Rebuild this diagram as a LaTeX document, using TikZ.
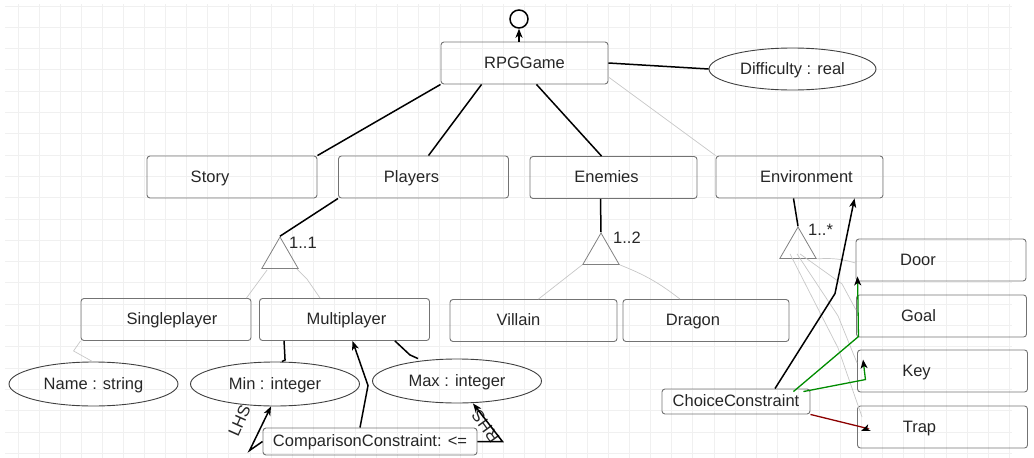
\documentclass[tikz,border=0pt]{standalone}
\usepackage{fontspec}
\setmainfont{Liberation Sans}
\usetikzlibrary{arrows.meta, shapes.geometric}

\newcommand{\cfont}{\fontsize{16.5}{19}\selectfont}

\tikzset{
  cls/.style={draw=black!55, line width=.9pt, rounded corners=3pt, minimum width=170pt, minimum height=42pt, inner sep=0pt},
  attr/.style={draw=black!75, line width=.9pt, ellipse, minimum width=169pt, minimum height=44pt, inner sep=0pt, font=\cfont, text=black!85},
  cons/.style={draw=black!55, line width=.9pt, rounded corners=3pt, inner sep=0pt, font=\cfont, text=black!85},
  lbl/.style={font=\cfont, text=black!85, text height=12pt, text depth=2pt, inner sep=0pt},
  grp/.style={draw=black!50, line width=.8pt, regular polygon, regular polygon sides=3, minimum size=42pt, inner sep=0pt},
  dark/.style={line width=1.5pt, black},
  lite/.style={line width=.7pt, black!22},
  gridln/.style={line width=.9pt, black!6},
  tip/.style={-{Stealth[length=9pt, width=7pt, inset=2.5pt, color=black]}},
}

\begin{document}
\begin{tikzpicture}[x=1pt,y=-1pt]
\useasboundingbox (0,0) rectangle (1034,458);
% grid
\foreach \i in {0,...,47} \draw[gridln] ({18+21.09*\i},4) -- ({18+21.09*\i},458);
\foreach \j in {0,...,21} \draw[gridln] (5,{6+21.3*\j}) -- (1012,{6+21.3*\j});

% features
\node[circle, draw, line width=1.5pt, minimum size=18pt, inner sep=0pt] (root) at (519,19) {};
\node[cls, minimum width=167pt, label={[lbl]center:RPGGame}] (rpg) at (524.5,63) {};
\node[attr, minimum width=167pt, minimum height=42pt, lbl] (diff) at (792.5,69) {Difficulty : real};

\node[cls, label={[lbl,xshift=-22pt]center:Story}] (story) at (232,177) {};
\node[cls, label={[lbl,xshift=-12pt]center:Players}] (players) at (423.5,177) {};
\node[cls, minimum width=167pt, label={[lbl,xshift=-7pt]center:Enemies}] (enemies) at (613.5,177.5) {};
\node[cls, minimum width=167pt, label={[lbl,xshift=7pt]center:Environment}] (env) at (799.5,177) {};

\node[grp] (pgrp) at (280,258) {};
\node[grp] (egrp) at (601,254) {};
\node[grp] (xgrp) at (798,248) {};
\node[lbl, anchor=west] (m1) at (289,243) {1..1};
\node[lbl, anchor=west] (m2) at (613,238) {1..2};
\node[lbl, anchor=west] (m3) at (808,230) {1..*};

\node[cls, label={[lbl,xshift=6pt]center:Singleplayer}] (single) at (166,319.5) {};
\node[cls, label={[lbl,xshift=2pt]center:Multiplayer}] (multi) at (344.5,319.5) {};
\node[cls, minimum width=167pt, label={[lbl,xshift=-15pt]center:Villain}] (villain) at (533.5,320.5) {};
\node[cls, minimum width=166pt, label={[lbl,xshift=-13pt]center:Dragon}] (dragon) at (706,320.5) {};

\node[cls, label={[lbl,xshift=-23pt]center:Door}] (door) at (941,260) {};
\node[cls, label={[lbl,xshift=-23pt]center:Goal}] (goal) at (941.5,316) {};
\node[cls, label={[lbl,xshift=-26pt]center:Key}] (key) at (942.5,371) {};
\node[cls, label={[lbl,xshift=-23pt]center:Trap}] (trap) at (942.5,427) {};

\node[attr, lbl] (name) at (93.5,384) {Name : string};
\node[attr, lbl] (mini) at (275,384) {Min : integer};
\node[attr, lbl] (maxi) at (457,381) {Max : integer};

% constraints
\node[cons, lbl, minimum width=214pt, minimum height=27pt] (comp) at (370,441.5) {ComparisonConstraint: <=};
\node[cons, lbl, minimum width=148pt, minimum height=25pt] (choice) at (736,401.5) {ChoiceConstraint};
\node[lbl, rotate=66] (lhs) at (240,421) {LHS};
\node[lbl, rotate=126] (rhs) at (486,426) {RHS};

% tree
\draw[dark,tip] (root.south |- rpg.north) -- (root.south);
\draw[dark] (rpg.east) -- (diff.west);
\draw[dark] (rpg.south west) -- (story.north east);
\draw[dark] ([xshift=41pt]rpg.south west) -- ([xshift=5pt]players.north);
\draw[dark] ([xshift=12pt]rpg.south) -- ([xshift=-12pt]enemies.north);
\draw[lite] ([yshift=-14pt]rpg.east) -- (env.north west);

\draw[dark] (players.south west) -- (pgrp.corner 1);
\draw[lite] ([xshift=6pt,yshift=-1pt]pgrp.corner 2) -- ([xshift=-5pt]single.north east);
\draw[lite] ([xshift=-2pt]pgrp.corner 3) -- ++(10,10) -- ([xshift=61pt]multi.north west);

\draw[dark] ([xshift=-13pt]enemies.south) -- (egrp.corner 1);
\draw[lite] (egrp.corner 2) -- ([xshift=5pt]villain.north);
\draw[lite] (egrp.corner 3) to[bend left=8] ([xshift=-26pt]dragon.north);

\draw[dark] ([xshift=-6pt]env.south) -- (xgrp.corner 1);
\draw[lite] (xgrp.corner 3) to[bend left=10] ([yshift=-3pt]door.west);
\draw[lite] ([xshift=2pt,yshift=5pt]xgrp.side 2) -- ++(42,30) -- ([yshift=6pt]goal.west);
\draw[lite] ([xshift=-1pt,yshift=5pt]xgrp.side 2) -- ++(41,62) -- ([yshift=8pt]key.west);
\draw[lite] ([xshift=-8pt,yshift=5pt]xgrp.side 2) -- ++(48,94) -- ([xshift=5pt,yshift=10pt]trap.west);

% attributes
\draw[lite] (single.south west) -- ++(-7,10) -- ([xshift=-1pt]name.north);
\draw[dark] ([xshift=25pt]multi.south west) -- ++(1,19) -- ([xshift=7pt]mini.north);
\draw[dark] ([xshift=-35pt]multi.south east) -- ++(15,14) -- ([xshift=-39pt]maxi.north);

% constraint links
\draw[dark,tip] ([xshift=-10pt]comp.north) -- ++(8,-42) -- ([xshift=8pt]multi.south);
\draw[dark,tip] (comp.west) -- ++(-13,9) -- ([xshift=-4pt]mini.south);
\draw[dark,tip] (comp.east) -- ++(25,0) -- ([xshift=16pt]maxi.south);

\draw[dark,tip] ([xshift=39pt]choice.north) -- ++(60,-95) -- ([xshift=55pt]env.south);
\draw[green!55!black, line width=1.3pt, tip] ([xshift=-17pt,yshift=-3pt]choice.north east) -- ++(65,-55) -- ([xshift=2pt,yshift=5pt]door.south west);
\draw[green!55!black, line width=1.3pt, tip] ([xshift=-7pt,yshift=-3pt]choice.north east) -- ++(62,-12) -- ([xshift=6pt,yshift=-10pt]key.north west);
\draw[red!55!black, line width=1.3pt, tip] (choice.south east) -- ++(57,14) -- ([xshift=4pt,yshift=-4pt]trap.west);
\end{tikzpicture}
\end{document}
